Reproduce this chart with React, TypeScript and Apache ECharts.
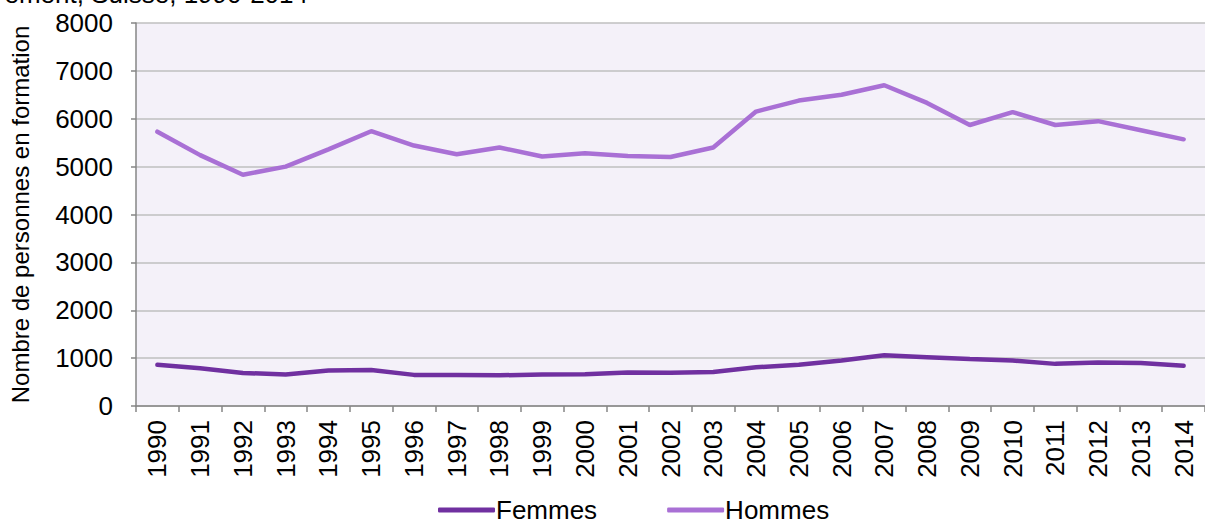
import React, { useEffect, useRef } from "react";
import * as echarts from "echarts";

const years = [
  "1990", "1991", "1992", "1993", "1994", "1995", "1996", "1997", "1998", "1999",
  "2000", "2001", "2002", "2003", "2004", "2005", "2006", "2007", "2008", "2009",
  "2010", "2011", "2012", "2013", "2014",
];
const femmes = [
  860, 790, 690, 660, 740, 750, 650, 650, 640, 660,
  665, 700, 695, 710, 810, 860, 950, 1060, 1020, 980,
  950, 880, 910, 900, 840,
];
const hommes = [
  5730, 5240, 4830, 5000, 5360, 5740, 5440, 5260, 5400, 5210,
  5280, 5220, 5200, 5400, 6150, 6380, 6500, 6700, 6330, 5870,
  6140, 5870, 5950, 5760, 5570,
];
const yTicks = [0, 1000, 2000, 3000, 4000, 5000, 6000, 7000, 8000];
const titleText = "ement, Suisse, 1990-2014";
const yName = "Nombre de personnes en formation";

export default function App() {
  const ref = useRef<HTMLDivElement>(null);
  useEffect(() => {
    document.body.style.margin = "0";
    const chart = echarts.init(ref.current!, null, { renderer: "svg" });
    const font = "Liberation Sans, Arial, sans-serif";
    chart.setOption({
      animation: false,
      backgroundColor: "#ffffff",
      textStyle: { fontFamily: font },
      graphic: [
        {
          type: "text",
          x: 308,
          y: -19,
          style: { text: titleText, fontSize: 26, fill: "#000", fontFamily: font, textAlign: "right" },
        },
      ],
      grid: {
        left: 129,
        right: 0,
        top: 23,
        bottom: 121,
        show: true,
        backgroundColor: "#F4F1F9",
        borderWidth: 0,
      },
      legend: {
        bottom: -1,
        left: 433,
        icon: "roundRect",
        itemWidth: 57,
        itemHeight: 5,
        itemGap: 70,
        textStyle: { fontSize: 26, color: "#000", fontFamily: font, padding: [0, 0, 0, -4] },
        data: ["Femmes", "Hommes"],
      },
      xAxis: {
        type: "category",
        data: years,
        boundaryGap: true,
        axisLine: { lineStyle: { color: "#868686", width: 1.5 } },
        axisTick: { show: true, length: 6, lineStyle: { color: "#868686", width: 1.5 } },
        axisLabel: { rotate: 90, fontSize: 26, color: "#000", margin: 14, fontFamily: font },
        splitLine: { show: false },
      },
      yAxis: {
        type: "value",
        min: yTicks[0],
        max: yTicks[yTicks.length - 1],
        interval: 1000,
        name: yName,
        nameLocation: "middle",
        nameGap: 104,
        nameTextStyle: { fontSize: 24, color: "#000", fontFamily: font },
        axisLine: { show: true, lineStyle: { color: "#868686", width: 1.5 } },
        axisTick: { show: true, length: 5, lineStyle: { color: "#868686", width: 1.5 } },
        axisLabel: { fontSize: 26, color: "#000", margin: 23, fontFamily: font, formatter: (v: number) => String(v) },
        splitLine: { show: true, lineStyle: { color: "#BFBFBF", width: 1.5 } },
      },
      series: [
        {
          name: "Femmes",
          type: "line",
          data: femmes,
          symbol: "none",
          itemStyle: { color: "#7030A0" },
          lineStyle: { color: "#7030A0", width: 4.5, cap: "round" },
        },
        {
          name: "Hommes",
          type: "line",
          data: hommes,
          symbol: "none",
          itemStyle: { color: "#A970D5" },
          lineStyle: { color: "#A970D5", width: 4.5, cap: "round" },
        },
      ],
    });
    return () => chart.dispose();
  }, []);
  return <div ref={ref} style={{ width: 1205, height: 527 }} />;
}
